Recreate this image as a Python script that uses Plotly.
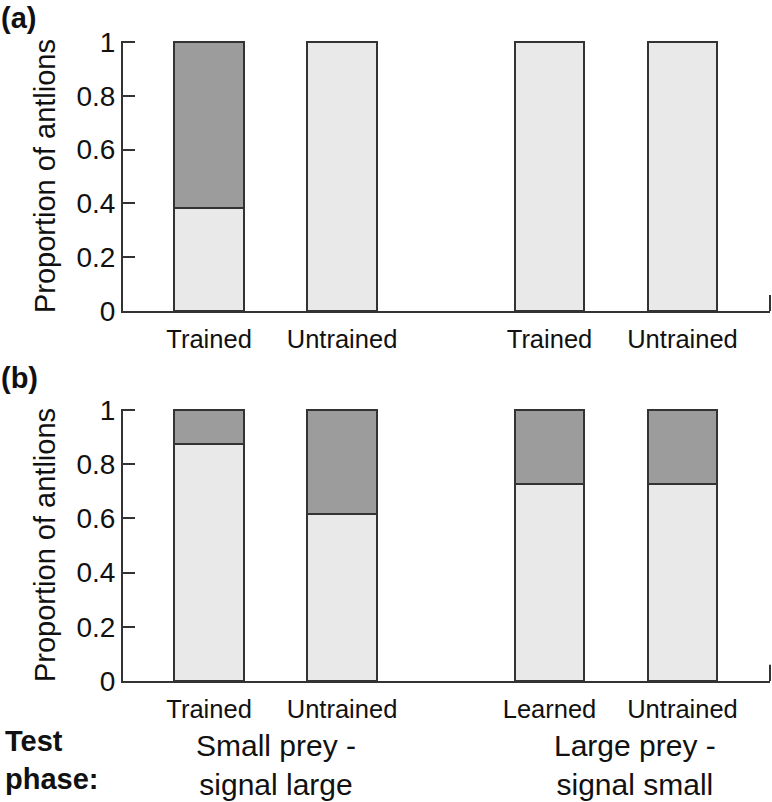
import plotly.graph_objects as go

# ---- data ----
labels_a = ["Trained", "Untrained", "Trained", "Untrained"]
labels_b = ["Trained", "Untrained", "Learned", "Untrained"]
a_light = [0.385, 1.0, 1.0, 1.0]
a_dark = [0.615, 0.0, 0.0, 0.0]
b_light = [0.876, 0.615, 0.728, 0.728]
b_dark = [0.124, 0.385, 0.272, 0.272]
group_labels = ["Small prey -<br>signal large", "Large prey -<br>signal small"]
y_ticks = [0, 0.2, 0.4, 0.6, 0.8, 1]
y_ticktext = ["0", "0.2", "0.4", "0.6", "0.8", "1"]

# ---- layout helpers (positions / styles) ----
positions = [0, 1, 2.56, 3.56]
group_centers = [0.5, 3.2]
LIGHT = "#e9e9e9"
DARK = "#9c9c9c"
EDGE = "#333333"
FONT = "Liberation Sans, Arial, sans-serif"

fig = go.Figure()
for light, dark, xa, ya in [(a_light, a_dark, "x", "y"), (b_light, b_dark, "x2", "y2")]:
    fig.add_trace(go.Bar(x=positions, y=light, width=0.52, marker=dict(color=LIGHT, line=dict(color=EDGE, width=2.2)),
                         xaxis=xa, yaxis=ya, showlegend=False, hoverinfo="skip"))
    fig.add_trace(go.Bar(x=positions, y=dark, width=0.52, marker=dict(color=DARK, line=dict(color=EDGE, width=2.2)),
                         xaxis=xa, yaxis=ya, showlegend=False, hoverinfo="skip"))

xcommon = dict(range=[-0.647, 4.218], showline=True, linecolor=EDGE, linewidth=2, ticks="",
               showgrid=False, zeroline=False, tickvals=positions,
               tickfont=dict(family=FONT, size=25.5, color="#111"), ticklabelstandoff=4)
ycommon = dict(range=[0, 1.004], showline=True, linecolor=EDGE, linewidth=2, ticks="inside",
               ticklen=12, tickwidth=2, tickcolor=EDGE, showgrid=False, zeroline=False,
               tickvals=y_ticks, ticktext=y_ticktext,
               tickfont=dict(family=FONT, size=28, color="#111"), ticklabelstandoff=0,
               title=dict(text="Proportion of antlions", font=dict(family=FONT, size=29, color="#111"), standoff=12))

fig.update_layout(
    width=772, height=802,
    margin=dict(l=123, r=2, t=41, b=121),
    paper_bgcolor="white", plot_bgcolor="white",
    barmode="stack", bargap=0,
    xaxis=dict(xcommon, domain=[0, 1], anchor="y", ticktext=labels_a),
    yaxis=dict(ycommon, domain=[0.578, 1.0], anchor="x"),
    xaxis2=dict(xcommon, domain=[0, 1], anchor="y2", ticktext=labels_b),
    yaxis2=dict(ycommon, domain=[0.0, 0.425], anchor="x2"),
)

# right-end small ticks on x axes
for xr, yr in [("x domain", "y domain"), ("x2 domain", "y2 domain")]:
    fig.add_shape(type="line", xref=xr, yref=yr, x0=1, x1=1, y0=0, y1=0.06,
                  line=dict(color=EDGE, width=2))

ann = []
ann.append(dict(text="<b>(a)</b>", xref="paper", yref="paper", x=-0.192, y=1.064, xanchor="left", yanchor="top",
                showarrow=False, font=dict(family=FONT, size=29, color="#111")))
ann.append(dict(text="<b>(b)</b>", xref="paper", yref="paper", x=-0.192, y=0.502, xanchor="left", yanchor="top",
                showarrow=False, font=dict(family=FONT, size=29, color="#111")))
ann.append(dict(text="<b>Test<br>phase:</b>", xref="paper", yref="paper", x=-0.185, y=-0.065, xanchor="left",
                yanchor="top", align="left", showarrow=False, font=dict(family=FONT, size=29, color="#111")))
for gx, gl in zip(group_centers, group_labels):
    ann.append(dict(text=gl, xref="x2", yref="paper", x=gx, y=-0.072, xanchor="center", yanchor="top",
                    align="center", showarrow=False, font=dict(family=FONT, size=30, color="#111")))
fig.update_layout(annotations=ann)

fig.write_html("out.html", config={"displayModeBar": False},
               post_script="document.body.style.margin='0';document.body.style.padding='0';")
